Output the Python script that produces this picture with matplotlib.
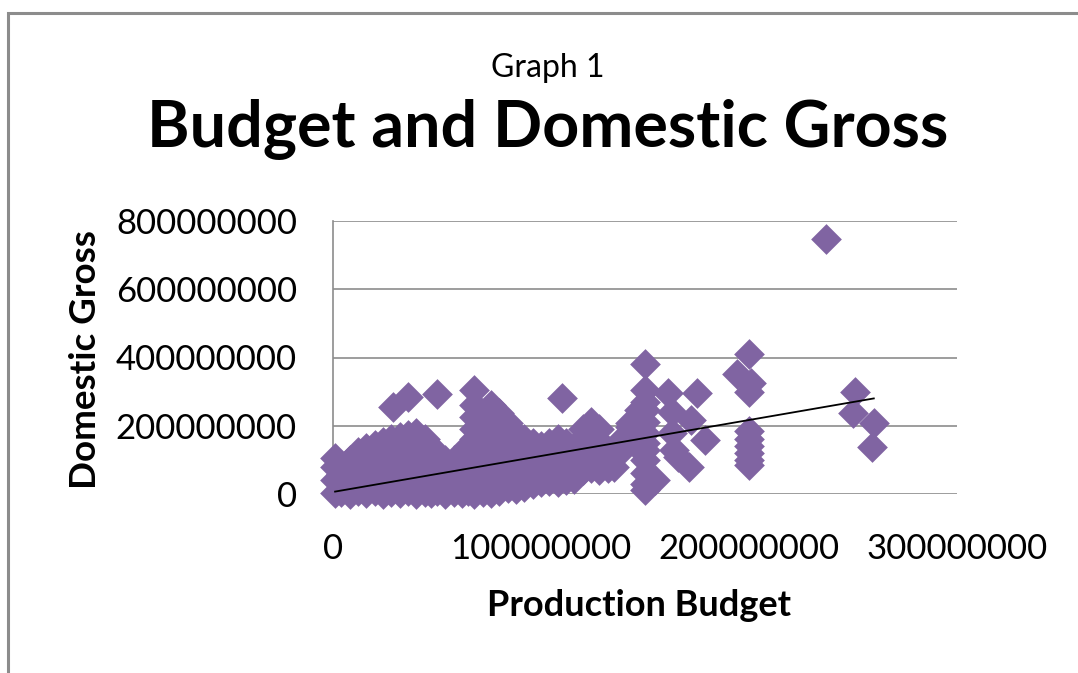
import matplotlib.pyplot as plt
from matplotlib.patches import Rectangle
from matplotlib.ticker import FuncFormatter
import numpy as np

# Wartości w milionach (budżet produkcji, wpływy krajowe)
budget = [
    1, 1, 1, 1,
    4, 4, 4, 4,
    8, 8, 8, 8,
    12, 12, 12, 12,
    16, 16, 16, 16, 16,
    20, 20, 20, 20, 20,
    24, 24, 24, 24, 24,
    28, 28, 28, 28, 28, 29,
    32, 32, 32, 32, 32, 32,
    36, 36, 36, 36, 36, 36,
    40, 40, 40, 40, 40, 40,
    44, 44, 44, 44, 44,
    47, 47, 47, 47, 47,
    50, 50, 50, 50, 50,
    54, 54, 54, 54,
    58, 58, 58, 58,
    62, 62, 62, 62,
    65, 65, 65, 65,
    68, 68, 68, 68, 68, 68, 68, 68, 68,
    72, 72, 72, 72, 72, 72,
    76, 76, 76, 76, 76, 76, 76, 76,
    80, 80, 80, 80, 80, 80,
    84, 84, 84, 84, 84, 84,
    88, 88, 88, 88, 88,
    92, 92, 92, 92, 92,
    96, 96, 96, 96,
    100, 100, 100, 100, 100,
    104, 104, 104, 104,
    108, 108, 108, 108, 108,
    110,
    112, 112, 112, 112,
    116, 116, 116, 116,
    120, 120, 120, 120,
    124, 124, 124, 124, 124,
    128, 128, 128, 128,
    132, 132, 132,
    135, 135,
    139, 139,
    143, 143, 143,
    147, 147, 148,
    150, 150, 150, 150, 150, 150, 150, 150, 150, 150, 150, 150,
    155, 161, 163, 163, 164, 166, 171, 172, 175, 179,
    194, 200, 200, 201,
    200, 200, 200, 200, 200, 200,
    237,
    250, 251, 259, 260,
]
gross = [
    2, 40, 80, 105,
    5, 25, 60, 85,
    0, 35, 70, 100,
    8, 45, 85, 122,
    2, 30, 65, 105, 135,
    10, 50, 90, 125, 145,
    0, 35, 75, 115, 152,
    6, 45, 85, 125, 160, 254,
    2, 30, 70, 110, 150, 168,
    8, 50, 90, 130, 172, 283,
    0, 35, 75, 115, 155, 178,
    5, 45, 85, 125, 160,
    2, 30, 70, 110, 138,
    8, 50, 90, 115, 292,
    0, 35, 70, 100,
    5, 45, 80, 100,
    2, 30, 70, 115,
    8, 50, 90, 140,
    0, 35, 75, 120, 160, 190, 225, 262, 304,
    5, 45, 85, 125, 165, 210,
    2, 30, 70, 110, 150, 190, 225, 260,
    8, 50, 90, 130, 170, 236,
    18, 35, 75, 115, 155, 207,
    15, 55, 95, 135, 175,
    20, 40, 80, 120, 160,
    30, 60, 100, 150,
    35, 45, 85, 125, 140,
    38, 70, 110, 150,
    35, 55, 95, 135, 160,
    280,
    40, 80, 120, 150,
    45, 65, 105, 137,
    70, 110, 150, 190,
    75, 95, 135, 175, 210,
    70, 110, 150, 190,
    75, 100, 130,
    80, 114,
    130, 160,
    170, 196, 207,
    210, 245, 128,
    12, 30, 61, 100, 128, 150, 180, 210, 245, 270, 304, 382,
    41, 295, 240, 178, 128, 108, 79, 216, 295, 158,
    353, 409, 298, 324,
    185, 160, 140, 120, 100, 85,
    747,
    236, 298, 137, 207,
]

budget = np.array(budget) * 1e6
gross = np.array(gross) * 1e6

# linia trendu (y = a*x + b)
trend_slope = 1.054
trend_intercept = 6000000

y_ticks = [0, 200000000, 400000000, 600000000, 800000000]
x_ticks = [0, 100000000, 200000000, 300000000]

fig = plt.figure(figsize=(10.78, 6.73), dpi=100)
plt.rcParams['font.family'] = ['Lato', 'DejaVu Sans']

# ramka wykresu (przycięta z prawej i od dołu)
fig.patches.append(Rectangle((8 / 1078, -0.2), 1.2, (673 - 13) / 673 + 0.2,
                             transform=fig.transFigure, fill=False,
                             edgecolor='#8c8c8c', linewidth=2.2))

ax = fig.add_axes([333 / 1078, 1 - 494 / 673, 624 / 1078, 273 / 673])
ax.scatter(budget, gross, marker='D', s=245, color='#8064A2',
           linewidths=0, clip_on=False, zorder=3)

xs = np.array([budget.min(), budget.max()])
ax.plot(xs, trend_slope * xs + trend_intercept, color='black',
        linewidth=1.3, zorder=4, clip_on=False)

ax.set_xlim(0, 300000000)
ax.set_ylim(0, 800000000)
ax.set_xticks(x_ticks)
ax.set_yticks(y_ticks)
fmt = FuncFormatter(lambda v, p: '%d' % v)
ax.xaxis.set_major_formatter(fmt)
ax.yaxis.set_major_formatter(fmt)
ax.tick_params(axis='both', length=0, labelsize=25, colors='black')
ax.tick_params(axis='y', pad=26)
ax.tick_params(axis='x', pad=28)

ax.grid(axis='y', color='#8c8c8c', linewidth=1.2, zorder=0)
ax.set_axisbelow(True)
for side in ['top', 'right', 'bottom']:
    ax.spines[side].set_visible(False)
ax.spines['left'].set_color('#8c8c8c')
ax.spines['left'].set_linewidth(1.2)

ax.set_xlabel('Production Budget', fontsize=26, fontweight='bold')
ax.xaxis.label.set_va('center')
ax.xaxis.set_label_coords(0.49, (494 - 605) / 273)
ax.set_ylabel('Domestic Gross', fontsize=26.5, fontweight='bold')
ax.yaxis.label.set_va('center')
ax.yaxis.set_label_coords((85 - 333) / 624, (494 - 360) / 273)

fig.text(548 / 1078, 1 - 68 / 673, 'Graph 1', ha='center', va='center',
         fontsize=23)
fig.text(548 / 1078, 1 - 130 / 673, 'Budget and Domestic Gross',
         ha='center', va='center', fontsize=46.5, fontweight='bold')

plt.savefig('out.png', dpi=100)
plt.close()
